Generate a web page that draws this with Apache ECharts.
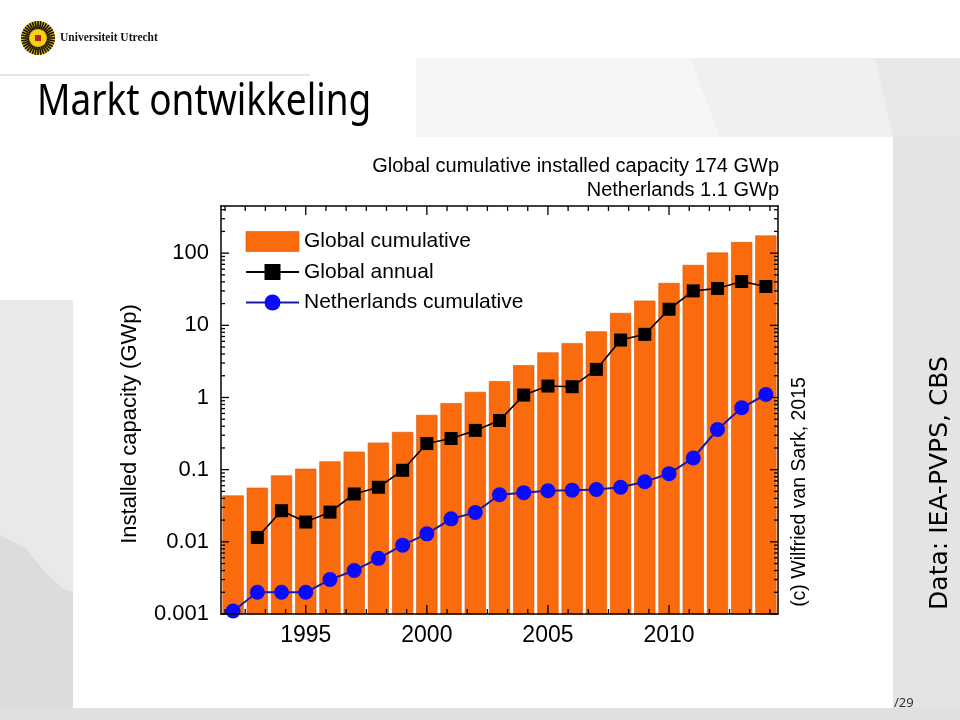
<!DOCTYPE html>
<html>
<head>
<meta charset="utf-8">
<script src="https://cdn.jsdelivr.net/npm/echarts@6/dist/echarts.min.js"></script>
<style>html,body{margin:0;padding:0;background:#fff}#c{width:960px;height:720px}</style>
</head>
<body>
<div id="c"></div>
<script>
const years = ['1992','1993','1994','1995','1996','1997','1998','1999','2000','2001','2002','2003','2004','2005','2006','2007','2008','2009','2010','2011','2012','2013','2014'];
const globalCumulative = [0.0435,0.0557,0.0826,0.102,0.129,0.176,0.235,0.33,0.568,0.826,1.185,1.67,2.78,4.18,5.62,8.17,14.7,21.8,38.3,68,101,141,174];
const globalAnnual = [null,0.0115,0.027,0.0188,0.0258,0.046,0.057,0.098,0.23,0.27,0.35,0.48,1.08,1.44,1.41,2.45,6.25,7.5,16.7,30,32.4,40.5,34.5];
const netherlandsCumulative = [0.0011,0.002,0.002,0.002,0.003,0.004,0.0059,0.009,0.0129,0.0208,0.0255,0.045,0.048,0.051,0.052,0.053,0.057,0.068,0.088,0.145,0.36,0.72,1.1];
const yTickLabels = ['0.001','0.01','0.1','1','10','100'];
const xTickLabels = ['1995','2000','2005','2010'];
const titleLines = ['Global cumulative installed capacity 174 GWp','Netherlands 1.1 GWp'];

const yMin = 0.001, yMax = 450;
const xMin = 1991.5, xMax = 2014.5;
const FONT = 'Liberation Sans';
const BAR_COLOR = '#FA6B0E', BAR_BORDER = '#D95800';

// tick positions for mirrored Origin-style axes
const yTicks = [];
for (let d = -3; d <= 2; d++) for (let m = 1; m <= 9; m++) {
  const v = m * Math.pow(10, d);
  if (v <= yMax) yTicks.push([xMin, v, m === 1 ? 1 : 0]);
}
const xTicks = [];
for (let k = -4; k <= 24; k++) {
  const t = 1995 + k * 5 / 6;
  if (t >= xMin && t <= xMax) xTicks.push([t, yMin, k % 6 === 0 ? 1 : 0]);
}

const chart = echarts.init(document.getElementById('c'), null, {renderer: 'canvas'});

// logo rays
const logoRays = [];
for (let i = 0; i < 36; i++) {
  const a = i * Math.PI * 2 / 36;
  logoRays.push({type:'line', z:-1, shape:{x1:38+Math.cos(a)*9, y1:38+Math.sin(a)*9, x2:38+Math.cos(a)*17, y2:38+Math.sin(a)*17}, style:{stroke:'#111', lineWidth:1.6}});
}

const option = {
  animation: false,
  textStyle: {fontFamily: FONT},
  title: [
    {text: titleLines[0], right: 176, top: 151, textStyle: {fontSize: 20, fontWeight: 'normal', color: '#000', fontFamily: FONT}},
    {text: titleLines[1], right: 176, top: 175, textStyle: {fontSize: 20, fontWeight: 'normal', color: '#000', fontFamily: FONT}}
  ],
  legend: {
    orient: 'vertical', left: 240, top: 226,
    itemWidth: 53, itemHeight: 20, itemGap: 9.5,
    textStyle: {fontSize: 21, color: '#000', fontFamily: FONT},
    data: [
      {name: 'Global cumulative', icon: 'rect', itemStyle: {color: BAR_COLOR, borderColor: BAR_BORDER, borderWidth: 0.6}},
      'Global annual', 'Netherlands cumulative']
  },
  grid: {left: 221, top: 206, width: 557, height: 408, containLabel: false},
  xAxis: [
    {type: 'category', data: years, position: 'bottom', z: 10,
     axisLine: {show: true, lineStyle: {color: '#000', width: 1.5}},
     axisTick: {show: false},
     axisLabel: {interval: (i, v) => xTickLabels.indexOf(v) >= 0, fontSize: 23, color: '#000', margin: 10, fontFamily: FONT},
     splitLine: {show: false}},
    {type: 'value', min: xMin, max: xMax, show: false},
    {type: 'category', data: years, position: 'top', z: 10,
     axisLine: {show: true, lineStyle: {color: '#000', width: 1.5}},
     axisTick: {show: false}, axisLabel: {show: false}, splitLine: {show: false}}
  ],
  yAxis: [
    {type: 'log', logBase: 10, min: yMin, max: yMax, z: 10,
     name: 'Installed capacity (GWp)', nameLocation: 'middle', nameRotate: 90, nameGap: 80,
     nameTextStyle: {fontSize: 22, color: '#000', fontFamily: FONT, padding: [0, 28, 0, 0]},
     axisLine: {show: true, lineStyle: {color: '#000', width: 1.5}},
     axisTick: {show: false},
     axisLabel: {fontSize: 22, color: '#000', margin: 12, fontFamily: FONT, showMaxLabel: false,
       formatter: v => { for (const l of yTickLabels) { if (Math.abs(Math.log10(v) - Math.log10(Number(l))) < 1e-6) return l; } return ''; }},
     splitLine: {show: false}},
    {type: 'log', logBase: 10, min: yMin, max: yMax, position: 'right', z: 10,
     axisLine: {show: true, lineStyle: {color: '#000', width: 1.5}},
     axisTick: {show: false}, axisLabel: {show: false}, splitLine: {show: false}}
  ],
  series: [
    {name: 'Global cumulative', type: 'custom', xAxisIndex: 0, yAxisIndex: 0,
     data: globalCumulative.map((v, i) => [years[i], v]),
     itemStyle: {color: BAR_COLOR}, z: 2,
     renderItem: (params, api) => {
       const top = api.coord([api.value(0), api.value(1)]);
       const base = api.coord([api.value(0), yMin]);
       const w = api.size([1, 0])[0] * 0.85;
       return {type: 'rect', shape: {x: top[0] - w / 2, y: top[1], width: w, height: base[1] - top[1]},
               style: {fill: BAR_COLOR, stroke: BAR_BORDER, lineWidth: 0.6}};
     }},
    {name: 'Global annual', type: 'line', xAxisIndex: 0, yAxisIndex: 0, data: globalAnnual,
     symbol: 'rect', symbolSize: 13, connectNulls: false,
     itemStyle: {color: '#000'}, lineStyle: {color: '#000', width: 1.6}, z: 4},
    {name: 'Netherlands cumulative', type: 'line', xAxisIndex: 0, yAxisIndex: 0, data: netherlandsCumulative,
     symbol: 'circle', symbolSize: 15,
     itemStyle: {color: '#0a0aff'}, lineStyle: {color: '#1a1aa8', width: 2}, z: 5},
    {name: 'yTicks', type: 'custom', xAxisIndex: 1, yAxisIndex: 0, data: yTicks, clip: false, z: 8, silent: true,
     renderItem: (params, api) => {
       const cs = params.coordSys; const p = api.coord([api.value(0), api.value(1)]);
       const len = api.value(2) ? 8 : 4;
       const st = {stroke: '#000', lineWidth: 1.3};
       return {type: 'group', children: [
         {type: 'line', shape: {x1: cs.x, y1: p[1], x2: cs.x + len, y2: p[1]}, style: st},
         {type: 'line', shape: {x1: cs.x + cs.width, y1: p[1], x2: cs.x + cs.width - len, y2: p[1]}, style: st}
       ]};
     }},
    {name: 'xTicks', type: 'custom', xAxisIndex: 1, yAxisIndex: 0, data: xTicks, clip: false, z: 8, silent: true,
     renderItem: (params, api) => {
       const cs = params.coordSys; const p = api.coord([api.value(0), api.value(1)]);
       const len = api.value(2) ? 9 : 5;
       const st = {stroke: '#000', lineWidth: 1.3};
       return {type: 'group', children: [
         {type: 'line', shape: {x1: p[0], y1: cs.y + cs.height, x2: p[0], y2: cs.y + cs.height - len}, style: st},
         {type: 'line', shape: {x1: p[0], y1: cs.y, x2: p[0], y2: cs.y + len}, style: st}
       ]};
     }}
  ],
  graphic: [
    // slide background shapes
    {type: 'polygon', z: -10, shape: {points: [[416,58],[960,58],[960,137],[416,137]]}, style: {fill: '#f6f6f6'}},
    {type: 'polygon', z: -10, shape: {points: [[690,58],[875,58],[905,100],[960,120],[960,137],[720,137]]}, style: {fill: '#f0f0f0'}},
    {type: 'polygon', z: -10, shape: {points: [[875,58],[960,58],[960,137],[893,137]]}, style: {fill: '#e8e8e8'}},
    {type: 'rect', z: -10, shape: {x: 893, y: 137, width: 67, height: 583}, style: {fill: '#e4e4e4'}},
    {type: 'rect', z: -10, shape: {x: 0, y: 300, width: 73, height: 420}, style: {fill: '#e9e9e9'}},
    {type: 'polygon', z: -10, shape: {points: [[0,535],[25,548],[45,572],[62,588],[73,592],[73,720],[0,720]]}, style: {fill: '#dcdcdc'}},
    {type: 'rect', z: -10, shape: {x: 0, y: 708, width: 960, height: 12}, style: {fill: '#e0e0e0'}},
    {type: 'rect', z: -9, shape: {x: 73, y: 137, width: 820, height: 571}, style: {fill: '#ffffff'}},
    {type: 'line', z: -9, shape: {x1: 0, y1: 75, x2: 310, y2: 75}, style: {stroke: '#e6e6e6', lineWidth: 2}},
    // logo
    {type: 'circle', z: -2, shape: {cx: 38, cy: 38, r: 17}, style: {fill: '#e9b400'}},
    ...logoRays,
    {type: 'circle', z: -1, shape: {cx: 38, cy: 38, r: 8}, style: {fill: '#f7d21a'}},
    {type: 'rect', z: -1, shape: {x: 35, y: 35, width: 6, height: 6}, style: {fill: '#c0201a'}},
    {type: 'text', z: -1, x: 60, y: 38, style: {text: 'Universiteit Utrecht', fontFamily: 'Liberation Serif', fontWeight: 'bold', fontSize: 11.5, fill: '#111', textVerticalAlign: 'middle'}},
    // slide title
    {type: 'text', z: -1, x: 37, y: 102, scaleX: 0.84, style: {text: 'Markt ontwikkeling', fontFamily: 'Noto Sans', fontSize: 44, fill: '#000', textVerticalAlign: 'middle'}},
    // copyright & source
    {type: 'text', z: 1, x: 800, y: 492, rotation: Math.PI / 2, style: {text: '(c) Wilfried van Sark, 2015', fontFamily: FONT, fontSize: 19.5, fill: '#000', textAlign: 'center', textVerticalAlign: 'middle'}},
    {type: 'text', z: 1, x: 940, y: 483, rotation: Math.PI / 2, style: {text: 'Data: IEA-PVPS, CBS', fontFamily: 'DejaVu Sans', fontSize: 25, fill: '#000', textAlign: 'center', textVerticalAlign: 'middle'}},
    {type: 'text', z: 1, x: 894, y: 703, style: {text: '/29', fontFamily: 'Noto Sans', fontSize: 13, fill: '#333', textVerticalAlign: 'middle'}}
  ]
};
chart.setOption(option);
</script>
</body>
</html>
